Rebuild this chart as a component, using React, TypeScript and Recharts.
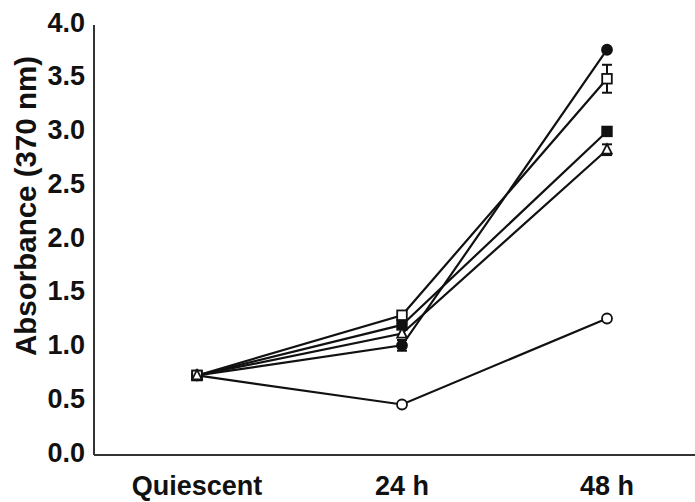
import React from 'react';
import { LineChart, Line, XAxis, YAxis, ErrorBar } from 'recharts';

const times = ['Quiescent', '24 h', '48 h'];
const filledCircle = [0.74, 1.02, 3.77];
const filledCircleErr = [0, 0.05, 0];
const openSquare = [0.74, 1.3, 3.5];
const openSquareErr = [0, 0, 0.13];
const filledSquare = [0.74, 1.21, 3.01];
const filledSquareErr = [0, 0, 0];
const openTriangle = [0.74, 1.13, 2.84];
const openTriangleErr = [0, 0, 0.05];
const openCircle = [0.74, 0.47, 1.27];
const openCircleErr = [0, 0, 0];
const yTicks = [0, 0.5, 1, 1.5, 2, 2.5, 3, 3.5, 4];

const data = times.map((t, i) => ({
  time: t,
  fc: filledCircle[i], fcE: filledCircleErr[i],
  os: openSquare[i], osE: openSquareErr[i],
  fs: filledSquare[i], fsE: filledSquareErr[i],
  ot: openTriangle[i], otE: openTriangleErr[i],
  oc: openCircle[i], ocE: openCircleErr[i],
}));

const FONT = '"Liberation Sans", Arial, sans-serif';

const makeDot = (shape: string, filled: boolean) => (props: any) => {
  const { cx, cy, index } = props;
  if (cx == null || cy == null) return <g key={index} />;
  const fill = filled ? '#111' : '#fff';
  const common = { fill, stroke: '#111', strokeWidth: 1.8 };
  if (shape === 'circle') return <circle key={index} cx={cx} cy={cy} r={5} {...common} />;
  if (shape === 'square') return <rect key={index} x={cx - 4.8} y={cy - 4.8} width={9.6} height={9.6} {...common} />;
  return (
    <path key={index} d={`M${cx},${cy - 5.5} L${cx + 4.8},${cy + 4} L${cx - 4.8},${cy + 4} Z`} {...common} />
  );
};

export default function App() {
  return (
    <div style={{ position: 'fixed', left: 0, top: 0, width: 695, height: 502, background: '#fff' }}>
      <LineChart width={695} height={502} data={data} margin={{ top: 25, right: 0, bottom: 0, left: 0 }}>
        <XAxis
          dataKey="time"
          padding={{ left: 103, right: 88 }}
          axisLine={{ stroke: '#333', strokeWidth: 2 }}
          tickLine={false}
          height={47}
          tickMargin={15}
          tick={{ fill: '#111', fontSize: 27, fontWeight: 'bold', fontFamily: FONT }}
        />
        <YAxis
          domain={[0, 4]}
          ticks={yTicks}
          width={94}
          axisLine={{ stroke: '#333', strokeWidth: 2 }}
          tickLine={false}
          tickMargin={3}
          tickFormatter={(v: number) => v.toFixed(1)}
          tick={{ fill: '#111', fontSize: 27, fontWeight: 'bold', fontFamily: FONT, dy: -3 }}
          label={{
            content: () => (
              <text
                x={25}
                y={206}
                transform="rotate(-90, 25, 206)"
                textAnchor="middle"
                dominantBaseline="central"
                fill="#111"
                fontSize={29.5}
                fontWeight="bold"
                fontFamily={FONT}
              >
                Absorbance (370 nm)
              </text>
            ),
          }}
        />
        <Line dataKey="fc" stroke="#111" strokeWidth={2.2} isAnimationActive={false} dot={makeDot('circle', true)}>
          <ErrorBar dataKey="fcE" stroke="#111" strokeWidth={2} width={5} />
        </Line>
        <Line dataKey="fs" stroke="#111" strokeWidth={2.2} isAnimationActive={false} dot={makeDot('square', true)}>
          <ErrorBar dataKey="fsE" stroke="#111" strokeWidth={2} width={5} />
        </Line>
        <Line dataKey="oc" stroke="#111" strokeWidth={2.2} isAnimationActive={false} dot={makeDot('circle', false)}>
          <ErrorBar dataKey="ocE" stroke="#111" strokeWidth={2} width={5} />
        </Line>
        <Line dataKey="os" stroke="#111" strokeWidth={2.2} isAnimationActive={false} dot={makeDot('square', false)}>
          <ErrorBar dataKey="osE" stroke="#111" strokeWidth={2} width={5} />
        </Line>
        <Line dataKey="ot" stroke="#111" strokeWidth={2.2} isAnimationActive={false} dot={makeDot('triangle', false)}>
          <ErrorBar dataKey="otE" stroke="#111" strokeWidth={2} width={5} />
        </Line>
      </LineChart>
    </div>
  );
}
